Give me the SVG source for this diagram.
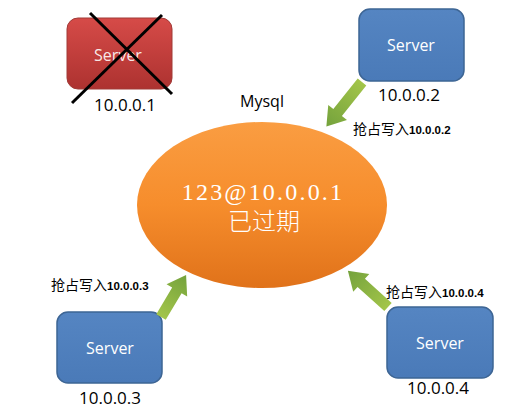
<svg xmlns="http://www.w3.org/2000/svg" width="514" height="417" viewBox="0 0 514 417">
<defs>
<linearGradient id="gBlue" x1="0" y1="0" x2="0" y2="1"><stop offset="0" stop-color="#5585c2"/><stop offset="1" stop-color="#4a7ab8"/></linearGradient>
<linearGradient id="gRed" x1="0" y1="0" x2="0" y2="1"><stop offset="0" stop-color="#d64b48"/><stop offset="1" stop-color="#ad3230"/></linearGradient>
<linearGradient id="gOrange" x1="0" y1="0" x2="0" y2="1"><stop offset="0" stop-color="#fa9d42"/><stop offset="0.5" stop-color="#f68d2c"/><stop offset="1" stop-color="#e0721a"/></linearGradient>
<linearGradient id="gGreen" x1="0" y1="0" x2="1" y2="0"><stop offset="0" stop-color="#a3c54a"/><stop offset="1" stop-color="#74a23c"/></linearGradient>
<style>
.box{fill:url(#gBlue);stroke:#3d6594;stroke-width:1.5}
.bad{fill:url(#gRed);stroke:#a13a37;stroke-width:1}
.stxt{font-family:"Open Sans","Noto Sans",sans-serif;font-size:16px;fill:#ffffff;text-anchor:middle}
.ip{font-family:"Open Sans","Noto Sans",sans-serif;font-size:17px;fill:#000;text-anchor:middle}
.lbl{font-family:"Noto Sans CJK SC",sans-serif;font-size:14px;fill:#000}
.lbl tspan{font-family:"Liberation Sans",sans-serif;font-size:11.5px;font-weight:bold}
.arr{fill:url(#gGreen)}
</style>
</defs>
<g id="mysql">
<ellipse cx="262" cy="205" rx="125" ry="83" fill="url(#gOrange)"/>
<text x="263" y="200" text-anchor="middle" font-family="Liberation Serif,serif" font-size="24" letter-spacing="2.2" fill="#fff">123@10.0.0.1</text>
<text x="264" y="230" text-anchor="middle" font-family="Noto Sans CJK SC,sans-serif" font-size="24" font-weight="300" fill="#fff">已过期</text>
<text x="262" y="107" text-anchor="middle" font-family="Open Sans,Noto Sans,sans-serif" font-size="16" fill="#000">Mysql</text>
</g>
<g id="server1">
<rect class="bad" x="67" y="18" width="105" height="71" rx="11"/>
<text class="stxt" x="118" y="61" fill-opacity="0.9">Server</text>
<line x1="90" y1="13" x2="172" y2="94" stroke="#000" stroke-width="3"/>
<line x1="162" y1="15" x2="72" y2="103" stroke="#000" stroke-width="3"/>
<text class="ip" x="125" y="111">10.0.0.1</text>
</g>
<g id="server2">
<rect class="box" x="359" y="9" width="105" height="72" rx="11"/>
<text class="stxt" x="411" y="51">Server</text>
<text class="ip" x="409" y="101">10.0.0.2</text>
</g>
<g id="server3">
<rect class="box" x="57" y="312" width="105" height="71" rx="11"/>
<text class="stxt" x="110" y="354">Server</text>
<text class="ip" x="110" y="404">10.0.0.3</text>
</g>
<g id="server4">
<rect class="box" x="387" y="307" width="106" height="71" rx="11"/>
<text class="stxt" x="440" y="349">Server</text>
<text class="ip" x="438" y="394">10.0.0.4</text>
</g>
<g id="connectors">
<polygon class="arr" transform="translate(362,82) rotate(128.7)" points="0,-5.5 39,-5.5 39,-12 57,0 39,12 39,5.5 0,5.5"/>
<polygon class="arr" transform="translate(161,317) rotate(-59.2)" points="0,-5.5 31,-5.5 31,-12 49,0 31,12 31,5.5 0,5.5"/>
<polygon class="arr" transform="translate(388,307) rotate(-138)" points="0,-5.5 36,-5.5 36,-12 54,0 36,12 36,5.5 0,5.5"/>
<text class="lbl" x="353" y="134">抢占写入<tspan>10.0.0.2</tspan></text>
<text class="lbl" x="51" y="290">抢占写入<tspan>10.0.0.3</tspan></text>
<text class="lbl" x="386" y="297">抢占写入<tspan>10.0.0.4</tspan></text>
</g>
</svg>
